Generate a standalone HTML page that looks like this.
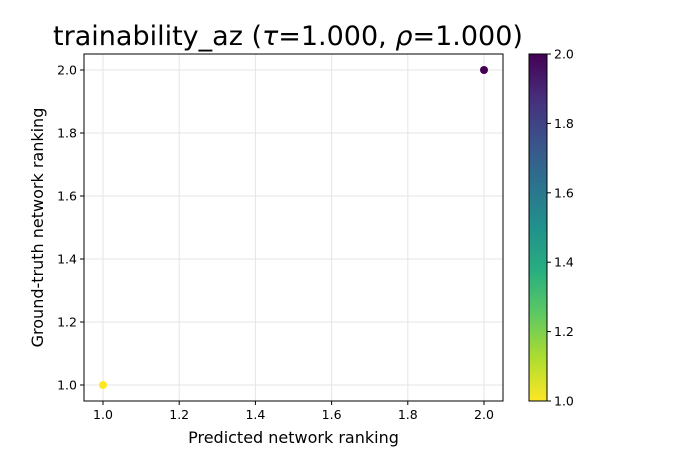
<!DOCTYPE html>
<html><head><meta charset="utf-8"><style>
body{margin:0;background:#fff;}
svg text{font-family:"DejaVu Sans","Liberation Sans",sans-serif;fill:#000;}
</style></head><body>
<svg id="chart" width="675" height="450" viewBox="0 0 675 450" xmlns="http://www.w3.org/2000/svg">
<defs><linearGradient id="viridis" x1="0" y1="1" x2="0" y2="0">
<stop offset="0" stop-color="#fde725"/><stop offset="0.125" stop-color="#addc30"/><stop offset="0.25" stop-color="#5ec962"/><stop offset="0.375" stop-color="#28ae80"/><stop offset="0.5" stop-color="#21918c"/><stop offset="0.625" stop-color="#2c728e"/><stop offset="0.75" stop-color="#3b528b"/><stop offset="0.875" stop-color="#472d7b"/><stop offset="1" stop-color="#440154"/>
</linearGradient></defs>
<text x="288" y="45" font-size="27" text-anchor="middle">trainability_az (<tspan font-style="italic">τ</tspan>=1.000, <tspan font-style="italic">ρ</tspan>=1.000)</text>
<g id="grid"></g><g id="ticks"></g><g id="marks"></g>
<rect x="84" y="54" width="419" height="347" fill="none" stroke="#000" stroke-width="1"/>
<text x="293.5" y="443" font-size="16" text-anchor="middle">Predicted network ranking</text>
<text transform="translate(43,227.5) rotate(-90)" font-size="16" text-anchor="middle">Ground-truth network ranking</text>
<rect x="529" y="54" width="18" height="347" fill="url(#viridis)" stroke="#000" stroke-width="1"/>
<g id="cbticks"></g>
</svg>
<script>
const predicted=[1.0,2.0];
const groundTruth=[1.0,2.0];
const colorValues=[1.0,2.0];
const xTicks=[1.0,1.2,1.4,1.6,1.8,2.0];
const yTicks=[1.0,1.2,1.4,1.6,1.8,2.0];
const cbTicks=[1.0,1.2,1.4,1.6,1.8,2.0];
const NS="http://www.w3.org/2000/svg";
const x=v=>103+(v-1)*381;
const y=v=>385-(v-1)*315;
const cb=v=>401-(v-1)*347;
function mk(tag,attrs,parent){const e=document.createElementNS(NS,tag);for(const k in attrs)e.setAttribute(k,attrs[k]);document.getElementById(parent).appendChild(e);return e;}
const stops=["#fde725","#addc30","#5ec962","#28ae80","#21918c","#2c728e","#3b528b","#472d7b","#440154"];
function hex(h){return [1,3,5].map(i=>parseInt(h.substr(i,2),16));}
function color(v){let t=(v-1)*8;let i=Math.min(7,Math.floor(t));let f=t-i;let a=hex(stops[i]),b=hex(stops[i+1]);return "rgb("+a.map((c,j)=>Math.round(c+(b[j]-c)*f)).join(",")+")";}
xTicks.forEach(t=>{
 const g=mk("line",{x1:x(t),x2:x(t),y1:54,y2:401,stroke:"#e5e5e5","stroke-width":1},"grid");
 
 
 const l=mk("line",{x1:x(t),x2:x(t),y1:401,y2:405,stroke:"#000"},"ticks");
 
 
 const tx=mk("text",{x:x(t),y:419,"font-size":12.5,"text-anchor":"middle"},"ticks");tx.textContent=t.toFixed(1);
 
 
});
yTicks.forEach(t=>{
 const g=mk("line",{x1:84,x2:503,y1:y(t),y2:y(t),stroke:"#e5e5e5","stroke-width":1},"grid");
 
 
 const l=mk("line",{x1:80,x2:84,y1:y(t),y2:y(t),stroke:"#000"},"ticks");
 
 
 const tx=mk("text",{x:77,y:y(t)+4.5,"font-size":12.5,"text-anchor":"end"},"ticks");tx.textContent=t.toFixed(1);
 
 
});
cbTicks.forEach(t=>{
 const l=mk("line",{x1:547,x2:551,y1:cb(t),y2:cb(t),stroke:"#000"},"cbticks");
 
 
 const tx=mk("text",{x:554,y:cb(t)+4.5,"font-size":12.5},"cbticks");tx.textContent=t.toFixed(1);
 
 
});
predicted.forEach((p,i)=>{
 const c=mk("circle",{cx:x(p),cy:y(groundTruth[i]),r:4,fill:color(colorValues[i])},"marks");
 
 
});
</script>
</body></html>
